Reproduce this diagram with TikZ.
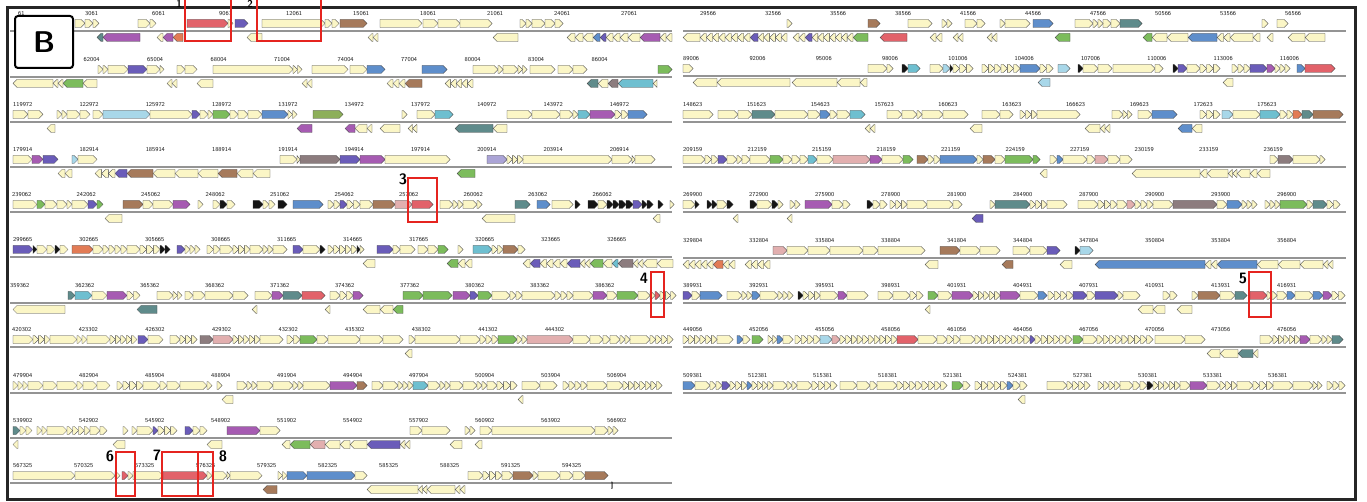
\documentclass[tikz,border=0pt]{standalone}
\usepackage{xcolor}
\definecolor{cr}{HTML}{FBF6C6}
\definecolor{pu}{HTML}{A65BB2}
\definecolor{vi}{HTML}{6A5CB9}
\definecolor{br}{HTML}{A67A5B}
\definecolor{rd}{HTML}{E2626A}
\definecolor{gn}{HTML}{7CBC5C}
\definecolor{ol}{HTML}{8DAF5A}
\definecolor{sb}{HTML}{5E8ECB}
\definecolor{cy}{HTML}{6EBFD0}
\definecolor{lb}{HTML}{A8D7E9}
\definecolor{tl}{HTML}{5F8B8B}
\definecolor{pk}{HTML}{E2AFAF}
\definecolor{tp}{HTML}{8C7C7E}
\definecolor{og}{HTML}{E27B55}
\definecolor{bk}{HTML}{151515}
\definecolor{lv}{HTML}{ABA4D6}
\definecolor{hired}{HTML}{E5241F}
\usepackage{tikz}
\usetikzlibrary{arrows.meta}

\tikzset{
  gene/.style={draw=black!75, line width=0.35pt},
  axis/.style={draw=black!42, line width=1.6pt},
  tick/.style={anchor=west, inner sep=0pt, text=black!90,
    font=\sffamily\fontsize{6}{6}\selectfont},
  hilite/.style={draw=hired, line width=2.4pt},
  numlbl/.style={inner sep=0pt, font=\sffamily\bfseries\fontsize{15}{15}\selectfont},
}

% forward / reverse gene arrows, drawn in the row's own frame (axis at y=0)
\newcommand{\fw}[3]{%
  \pgfmathsetmacro\gxa{#1}\pgfmathsetmacro\gxb{#2}%
  \pgfmathsetmacro\ghd{min(4,\gxb-\gxa)}%
  \draw[gene,fill=#3] (\gxa,-11.5) -- ({\gxb-\ghd},-11.5) -- (\gxb,-7.5)
    -- ({\gxb-\ghd},-3.5) -- (\gxa,-3.5) -- cycle;}
\newcommand{\rv}[3]{%
  \pgfmathsetmacro\gxa{#1}\pgfmathsetmacro\gxb{#2}%
  \pgfmathsetmacro\ghd{min(4,\gxb-\gxa)}%
  \draw[gene,fill=#3] (\gxa,6.5) -- ({\gxa+\ghd},2.5) -- (\gxb,2.5)
    -- (\gxb,10.5) -- ({\gxa+\ghd},10.5) -- cycle;}
% runs of tiny genes
\newcommand{\fsm}[2]{%
  \pgfmathtruncatemacro\nsm{max(1,round((#2-#1)/6))}%
  \pgfmathsetmacro\wsm{(#2-#1)/\nsm}%
  \foreach \k in {1,...,\nsm}{\fw{#1+(\k-1)*\wsm}{#1+\k*\wsm}{cr}}}
\newcommand{\rsm}[2]{%
  \pgfmathtruncatemacro\nsm{max(1,round((#2-#1)/6))}%
  \pgfmathsetmacro\wsm{(#2-#1)/\nsm}%
  \foreach \k in {1,...,\nsm}{\rv{#1+(\k-1)*\wsm}{#1+\k*\wsm}{cr}}}

\begin{document}
\begin{tikzpicture}[x=1pt,y=-1pt]
\useasboundingbox (0,0) rectangle (1367,502);
\fill[white] (0,0) rectangle (1367,502);

%% ---------- left column ----------
\begin{scope}[shift={(0,31)}]
  \foreach \t [count=\i from 0] in {61,3061,6061,9061,12061,15061,18061,21061,24061,27061}
    \node[tick] (La\i) at ({18+67*\i},-17) {\t};
  \draw[axis] (10,0) -- (672,0);
  \foreach \a/\b/\c in {75/85/cr,85/93/cr,138/150/cr,187/228/rd,235/248/vi,262/325/cr,340/367/br,380/422/cr,423/438/cr,438/460/cr,460/492/cr,532/545/cr,545/555/cr}
    \fw{\a}{\b}{\c};
  \foreach \a/\b in {93/99,150/156,228/233,325/339,520/532,555/563} \fsm{\a}{\b};
  \foreach \a/\b/\c in {97/103/tl,103/140/pu,157/163/cr,163/173/pu,173/183/og,247/262/cr,493/518/cr,575/583/cr,583/593/cr,593/600/sb,600/606/vi,606/613/cr,613/620/cr,620/628/cr,628/640/cr,640/660/pu}
    \rv{\a}{\b}{\c};
  \foreach \a/\b in {368/378,567/575,660/672} \rsm{\a}{\b};
\end{scope}

\begin{scope}[shift={(0,77)}]
  \foreach \t [count=\i from 0] in {59004,62004,65004,68004,71004,74004,77004,80004,83004,86004}
    \node[tick] (Lb\i) at ({20+63.5*\i},-17) {\t};
  \draw[axis] (10,0) -- (672,0);
  \foreach \a/\b/\c in {108/128/cr,128/147/vi,147/160/cr,185/197/cr,213/293/cr,312/348/cr,350/367/cr,367/385/sb,422/447/sb,473/498/cr,503/518/cr,530/555/cr,558/573/cr,573/587/cr,658/672/gn}
    \fw{\a}{\b}{\c};
  \foreach \a/\b in {98/108,160/164,177/185,293/302,498/503,518/527} \fsm{\a}{\b};
  \foreach \a/\b/\c in {13/53/cr,63/83/gn,83/97/cr,197/213/cr,405/422/br,587/598/tl,598/608/cr,608/618/tp,618/653/cy}
    \rv{\a}{\b}{\c};
  \foreach \a/\b in {53/63,167/177,302/312,387/405,445/473,653/657} \rsm{\a}{\b};
\end{scope}

\begin{scope}[shift={(0,122)}]
  \foreach \t [count=\i from 0] in {119972,122972,125972,128972,131972,134972,137972,140972,143972,146972}
    \node[tick] (Lc\i) at ({13+66.3*\i},-17) {\t};
  \draw[axis] (10,0) -- (672,0);
  \foreach \a/\b/\c in {13/28/cr,28/43/cr,67/80/cr,80/90/cr,93/103/cr,103/150/lb,150/192/cr,192/200/vi,208/213/cr,213/230/gn,238/248/cr,248/262/cr,262/288/sb,313/343/ol,417/435/cr,435/453/cy,507/532/cr,532/560/cr,560/573/cr,578/590/cy,590/615/pu,628/647/sb}
    \fw{\a}{\b}{\c};
  \foreach \a/\b in {57/67,200/208,230/238,288/297,402/407,573/578,615/628} \fsm{\a}{\b};
  \foreach \a/\b/\c in {47/55/cr,297/312/pu,345/355/pu,355/367/cr,380/400/cr,455/493/tl,493/507/cr}
    \rv{\a}{\b}{\c};
  \foreach \a/\b in {367/372,408/417} \rsm{\a}{\b};
\end{scope}

\begin{scope}[shift={(0,167)}]
  \foreach \t [count=\i from 0] in {179914,182914,185914,188914,191914,194914,197914,200914,203914,206914}
    \node[tick] (Ld\i) at ({13+66.3*\i},-17) {\t};
  \draw[axis] (10,0) -- (672,0);
  \foreach \a/\b/\c in {13/32/cr,32/43/pu,43/58/vi,72/78/lb,78/97/cr,280/297/cr,300/340/tp,340/360/vi,360/385/pu,385/450/cr,487/507/lv,523/612/cr,612/632/cr,635/655/cr}
    \fw{\a}{\b}{\c};
  \foreach \a/\b in {297/300,507/523,632/635} \fsm{\a}{\b};
  \foreach \a/\b/\c in {115/127/vi,127/153/br,153/175/cr,175/198/cr,198/218/cr,218/237/br,237/253/cr,253/270/cr,457/475/gn}
    \rv{\a}{\b}{\c};
  \foreach \a/\b in {58/72,95/115} \rsm{\a}{\b};
\end{scope}

\begin{scope}[shift={(0,212)}]
  \foreach \t [count=\i from 0] in {239062,242062,245062,248062,251062,254062,257062,260062,263062,266062}
    \node[tick] (Le\i) at ({12+64.5*\i},-17) {\t};
  \draw[axis] (10,0) -- (672,0);
  \foreach \a/\b/\c in {13/37/cr,37/45/gn,45/57/cr,57/67/cr,72/88/cr,88/97/vi,97/103/gn,123/143/br,143/153/cr,153/173/cr,173/190/pu,220/227/bk,227/235/cr,253/263/bk,278/287/bk,293/323/sb,340/347/vi,360/373/cr,373/395/br,395/412/pk,412/433/rd,440/453/cr,463/477/cr,515/530/tl,537/550/sb,552/573/cr,575/580/bk,588/598/bk,598/607/cr,607/613/bk,613/619/bk,619/626/bk,626/633/bk,633/642/vi,642/647/bk,647/653/bk,658/663/bk}
    \fw{\a}{\b}{\c};
  \foreach \a/\b in {67/72,198/203,213/220,263/275,328/340,347/360,453/463,477/482,670/674} \fsm{\a}{\b};
  \foreach \a/\b/\c in {105/122/cr,482/515/cr} \rv{\a}{\b}{\c};
  \foreach \a/\b in {653/660} \rsm{\a}{\b};
\end{scope}

\begin{scope}[shift={(0,257)}]
  \foreach \t [count=\i from 0] in {299665,302665,305665,308665,311665,314665,317665,320665,323665,326665}
    \node[tick] (Lf\i) at ({13+66*\i},-17) {\t};
  \draw[axis] (10,0) -- (672,0);
  \foreach \a/\b/\c in {13/33/vi,33/37/bk,37/47/cr,55/60/bk,60/68/cr,72/93/og,93/103/cr,127/140/cr,160/165/bk,165/170/bk,177/185/vi,220/233/cr,250/263/cr,273/287/cr,293/303/vi,303/320/cr,320/325/bk,357/360/bk,377/393/vi,400/415/cr,418/428/cr,428/438/cr,438/448/gn,473/492/cy,503/518/br}
    \fw{\a}{\b}{\c};
  \foreach \a/\b in {47/55,103/127,140/160,185/200,207/220,233/250,263/273,328/357,360/364,393/400,458/463,492/503,518/525} \fsm{\a}{\b};
  \foreach \a/\b/\c in {363/375/cr,447/458/gn,530/540/vi,567/580/vi,590/603/gn,603/612/cr,612/618/cy,618/633/tp,643/657/cr,657/673/cr}
    \rv{\a}{\b}{\c};
  \foreach \a/\b in {458/472,523/530,540/553,553/567,580/590,633/643} \rsm{\a}{\b};
\end{scope}

\begin{scope}[shift={(0,303)}]
  \foreach \t [count=\i from 0] in {359362,362362,365362,368362,371362,374362,377362,380362,383362,386362}
    \node[tick] (Lg\i) at ({10+65*\i},-17) {\t};
  \draw[axis] (10,0) -- (672,0);
  \foreach \a/\b/\c in {68/75/tl,75/92/cy,92/107/cr,107/127/pu,157/173/cr,193/205/cr,205/233/cr,233/248/cr,255/272/cr,272/283/pu,283/302/tl,302/325/rd,330/340/cr,353/363/pu,403/423/gn,423/452/gn,453/470/pu,470/478/vi,478/492/gn,492/510/cr,522/555/cr,573/593/cr,593/607/pu,607/617/cr,617/638/gn,638/650/cr,655/660/rd}
    \fw{\a}{\b}{\c};
  \foreach \a/\b in {127/140,173/182,185/193,340/353,510/522,555/573,650/655,660/676} \fsm{\a}{\b};
  \foreach \a/\b/\c in {13/65/cr,137/157/tl,363/380/cr,380/393/cr,393/403/gn} \rv{\a}{\b}{\c};
  \foreach \a/\b in {252/257,325/330} \rsm{\a}{\b};
\end{scope}

\begin{scope}[shift={(0,347)}]
  \foreach \t [count=\i from 0] in {420302,423302,426302,429302,432302,435302,438302,441302,444302}
    \node[tick] (Lh\i) at ({12+66.6*\i},-17) {\t};
  \draw[axis] (10,0) -- (672,0);
  \foreach \a/\b/\c in {13/33/cr,50/77/cr,87/110/cr,138/148/vi,148/163/cr,170/180/cr,200/213/tp,213/233/pk,260/283/cr,300/317/gn,317/328/cr,328/360/cr,360/383/cr,383/403/cr,415/460/cr,460/480/cr,498/517/gn,527/573/pk,573/590/cr,590/603/cr,610/620/cr,630/650/cr}
    \fw{\a}{\b}{\c};
  \foreach \a/\b in {33/50,77/87,110/137,180/197,233/260,287/300,409/415,480/498,517/527,603/610,620/630,650/673} \fsm{\a}{\b};
  \foreach \a/\b in {405/412} \rsm{\a}{\b};
\end{scope}

\begin{scope}[shift={(0,393)}]
  \foreach \t [count=\i from 0] in {479904,482904,485904,488904,491904,494904,497904,500904,503904,506904}
    \node[tick] (Li\i) at ({13+66*\i},-17) {\t};
  \draw[axis] (10,0) -- (672,0);
  \foreach \a/\b/\c in {28/43/cr,43/57/cr,57/77/cr,83/97/cr,97/110/cr,117/123/cr,143/160/cr,167/180/cr,180/207/cr,237/247/cr,257/273/cr,273/293/cr,303/330/cr,330/357/pu,357/367/br,372/383/cr,383/398/cr,413/428/cy,428/440/cr,450/463/cr,463/477/cr,487/497/cr,522/540/cr,540/557/cr,587/607/cr,607/623/cr}
    \fw{\a}{\b}{\c};
  \foreach \a/\b in {13/28,77/83,123/143,160/167,207/212,217/222,247/257,293/303,398/413,440/450,477/487,497/517,563/587,623/662} \fsm{\a}{\b};
  \foreach \a/\b/\c in {222/233/cr} \rv{\a}{\b}{\c};
  \foreach \a/\b in {518/523} \rsm{\a}{\b};
\end{scope}

\begin{scope}[shift={(0,438)}]
  \foreach \t [count=\i from 0] in {539902,542902,545902,548902,551902,554902,557902,560902,563902,566902}
    \node[tick] (Lj\i) at ({13+66*\i},-17) {\t};
  \draw[axis] (10,0) -- (672,0);
  \foreach \a/\b/\c in {13/20/tl,47/67/cr,90/100/cr,137/153/cr,153/158/vi,185/193/vi,227/260/pu,260/280/cr,410/422/cr,422/450/cr,480/492/cr,492/595/cr,595/608/cr}
    \fw{\a}{\b}{\c};
  \foreach \a/\b in {20/32,37/47,67/90,100/107,123/128,132/137,158/177,193/207,465/475,608/618} \fsm{\a}{\b};
  \foreach \a/\b/\c in {113/125/cr,207/222/cr,290/310/gn,310/325/pk,325/340/cr,340/350/cr,350/367/cr,367/400/vi,450/462/cr}
    \rv{\a}{\b}{\c};
  \foreach \a/\b in {13/18,282/290,400/410,475/482} \rsm{\a}{\b};
\end{scope}

\begin{scope}[shift={(0,483)}]
  \foreach \t [count=\i from 0] in {567325,570325,573325,576325,579325,582325,585325,588325,591325,594325}
    \node[tick] (Lk\i) at ({13+61*\i},-17) {\t};
  \draw[axis] (10,0) -- (672,0);
  \foreach \a/\b/\c in {13/75/cr,75/115/cr,122/128/rd,133/163/cr,163/207/rd,212/227/cr,230/262/cr,287/307/sb,307/355/sb,355/367/cr,468/483/cr,502/513/cr,513/533/br,538/560/cr,560/573/cr,573/585/cr,585/608/br}
    \fw{\a}{\b}{\c};
  \foreach \a/\b in {115/120,128/133,207/212,227/230,278/287,483/502,533/538} \fsm{\a}{\b};
  \foreach \a/\b/\c in {263/277/br,367/418/cr,427/455/cr} \rv{\a}{\b}{\c};
  \foreach \a/\b in {418/427,455/465} \rsm{\a}{\b};
  \node[inner sep=0pt, font=\sffamily\bfseries\fontsize{7}{7}\selectfont] (endmark) at (612,3) {]};
\end{scope}

%% ---------- right column ----------
\begin{scope}[shift={(0,31)}]
  \foreach \t [count=\i from 0] in {29566,32566,35566,38566,41566,44566,47566,50566,53566,56566}
    \node[tick] (Ra\i) at ({700+65*\i},-17) {\t};
  \draw[axis] (683,0) -- (1346,0);
  \foreach \a/\b/\c in {868/880/br,908/932/cr,965/977/cr,977/985/cr,1005/1030/cr,1033/1053/sb,1075/1093/cr,1103/1111/cr,1111/1120/cr,1120/1142/tl,1277/1288/cr}
    \fw{\a}{\b}{\c};
  \foreach \a/\b in {787/792,942/952,1000/1005,1093/1103,1262/1268} \fsm{\a}{\b};
  \foreach \a/\b/\c in {683/700/cr,750/758/vi,805/812/vi,853/868/gn,880/907/rd,1055/1070/gn,1143/1152/gn,1152/1167/cr,1167/1188/cr,1188/1217/sb,1230/1253/cr,1288/1305/cr,1305/1325/cr}
    \rv{\a}{\b}{\c};
  \foreach \a/\b in {700/750,758/787,793/805,812/853,930/942,953/963,987/997,1217/1230,1253/1260,1267/1273} \rsm{\a}{\b};
\end{scope}

\begin{scope}[shift={(0,76)}]
  \foreach \t [count=\i from 0] in {89006,92006,95006,98006,101006,104006,107006,110006,113006,116006}
    \node[tick] (Rb\i) at ({683+66.3*\i},-17) {\t};
  \draw[axis] (683,0) -- (1346,0);
  \foreach \a/\b/\c in {683/693/cr,868/887/cr,902/908/bk,908/920/cy,930/943/cr,943/950/lb,950/953/bk,1020/1040/sb,1058/1070/lb,1078/1083/bk,1083/1098/cr,1098/1112/cr,1113/1155/cr,1173/1178/bk,1178/1187/vi,1187/1200/cr,1250/1267/vi,1267/1275/pu,1297/1305/sb,1305/1335/rd}
    \fw{\a}{\b}{\c};
  \foreach \a/\b in {887/893,953/973,982/1020,1040/1053,1155/1163,1200/1220,1232/1250,1275/1290} \fsm{\a}{\b};
  \foreach \a/\b/\c in {693/717/cr,717/790/cr,792/837/cr,837/860/cr,1038/1050/lb,1223/1233/cr} \rv{\a}{\b}{\c};
  \foreach \a/\b in {860/867} \rsm{\a}{\b};
\end{scope}

\begin{scope}[shift={(0,122)}]
  \foreach \t [count=\i from 0] in {148623,151623,154623,157623,160623,163623,166623,169623,172623,175623}
    \node[tick] (Rc\i) at ({683+63.8*\i},-17) {\t};
  \draw[axis] (683,0) -- (1346,0);
  \foreach \a/\b/\c in {683/713/cr,718/738/cr,738/752/cr,752/775/tl,775/808/cr,808/820/cr,820/830/sb,837/850/cr,850/865/cy,887/902/cr,902/917/cr,922/943/cr,943/968/cr,982/1000/cr,1000/1013/cr,1037/1080/cr,1112/1123/cr,1138/1152/cr,1152/1177/sb,1222/1233/lb,1233/1260/cr,1260/1280/cy,1287/1293/cr,1293/1302/og,1302/1313/tl,1313/1343/br}
    \fw{\a}{\b}{\c};
  \foreach \a/\b in {830/837,917/922,1020/1037,1123/1132,1200/1220,1280/1287} \fsm{\a}{\b};
  \foreach \a/\b/\c in {970/982/cr,1085/1100/cr,1178/1192/sb,1192/1202/cr} \rv{\a}{\b}{\c};
  \foreach \a/\b in {865/875,1100/1110} \rsm{\a}{\b};
\end{scope}

\begin{scope}[shift={(0,167)}]
  \foreach \t [count=\i from 0] in {209159,212159,215159,218159,221159,224159,227159,230159,233159,236159}
    \node[tick] (Rd\i) at ({683+64.5*\i},-17) {\t};
  \draw[axis] (683,0) -- (1346,0);
  \foreach \a/\b/\c in {683/705/cr,718/727/vi,727/737/cr,742/750/cr,750/770/cr,770/783/gn,783/792/cr,800/808/cr,808/817/cy,817/833/cr,833/870/pk,870/882/pu,882/903/cr,903/913/gn,917/928/br,940/977/sb,983/995/br,995/1005/cr,1005/1033/gn,1033/1040/gn,1057/1063/sb,1063/1087/cr,1095/1108/pk,1108/1120/cr,1120/1132/cr,1270/1278/cr,1278/1293/tp,1293/1320/cr}
    \fw{\a}{\b}{\c};
  \foreach \a/\b in {705/718,737/742,792/800,928/940,977/983,1050/1057,1087/1095,1320/1325} \fsm{\a}{\b};
  \foreach \a/\b/\c in {1132/1200/cr,1207/1228/cr,1237/1250/cr,1257/1270/cr} \rv{\a}{\b}{\c};
  \foreach \a/\b in {1040/1047,1200/1207,1228/1237,1250/1257} \rsm{\a}{\b};
\end{scope}

\begin{scope}[shift={(0,212)}]
  \foreach \t [count=\i from 0] in {269900,272900,275900,278900,281900,284900,287900,290900,293900,296900}
    \node[tick] (Re\i) at ({683+66*\i},-17) {\t};
  \draw[axis] (683,0) -- (1346,0);
  \foreach \a/\b/\c in {683/695/cr,695/699/bk,707/712/bk,712/717/bk,717/727/cr,727/733/bk,750/757/bk,757/772/cr,772/778/bk,805/832/pu,832/843/cr,867/873/bk,907/927/cr,927/953/cr,953/962/cr,995/1030/tl,1047/1067/cr,1078/1098/cr,1117/1127/cr,1127/1135/pk,1153/1173/cr,1173/1217/tp,1217/1227/cr,1227/1242/sb,1280/1307/gn,1307/1313/cr,1313/1327/tl}
    \fw{\a}{\b}{\c};
  \foreach \a/\b in {778/783,790/800,843/850,873/887,890/907,990/995,1030/1047,1098/1117,1135/1153,1242/1257,1265/1280,1327/1340} \fsm{\a}{\b};
  \foreach \a/\b/\c in {972/983/vi} \rv{\a}{\b}{\c};
  \foreach \a/\b in {733/738,787/792} \rsm{\a}{\b};
\end{scope}

\begin{scope}[shift={(0,258)}]
  \foreach \t [count=\i from 0] in {329804,332804,335804,338804,341804,344804,347804,350804,353804,356804}
    \node[tick] (Rf\i) at ({683+66*\i},-17) {\t};
  \draw[axis] (683,0) -- (1346,0);
  \foreach \a/\b/\c in {773/787/pk,787/808/cr,808/830/cr,830/863/cr,863/878/cr,878/925/cr,940/960/br,960/980/cr,980/1000/cr,1013/1030/cr,1030/1047/cr,1047/1060/vi,1075/1080/bk,1080/1093/lb}
    \fw{\a}{\b}{\c};
  \foreach \a/\b/\c in {713/723/og,925/938/cr,1002/1013/br,1060/1072/cr,1095/1205/sb,1217/1257/sb,1257/1278/cr,1278/1300/cr,1300/1323/cr}
    \rv{\a}{\b}{\c};
  \foreach \a/\b in {683/713,723/735,745/770,1205/1217,1323/1333} \rsm{\a}{\b};
\end{scope}

\begin{scope}[shift={(0,303)}]
  \foreach \t [count=\i from 0] in {389931,392931,395931,398931,401931,404931,407931,410931,413931,416931}
    \node[tick] (Rg\i) at ({683+66*\i},-17) {\t};
  \draw[axis] (683,0) -- (1346,0);
  \foreach \a/\b/\c in {683/692/vi,700/722/sb,727/742/cr,752/760/sb,760/778/cr,798/803/bk,820/838/cr,838/847/pu,847/868/cr,878/893/cr,893/910/cr,928/938/gn,938/952/cr,952/973/pu,1000/1020/pu,1020/1038/cr,1038/1047/sb,1073/1087/vi,1087/1095/cr,1095/1118/vi,1123/1140/cr,1198/1220/br,1220/1235/cr,1235/1247/tl,1250/1267/rd,1277/1287/cr,1287/1295/sb,1295/1313/cr,1313/1323/sb,1323/1332/pu}
    \fw{\a}{\b}{\c};
  \foreach \a/\b in {692/700,742/752,778/793,803/820,910/923,973/1000,1048/1073,1118/1123,1163/1177,1192/1198,1267/1277,1332/1345} \fsm{\a}{\b};
  \foreach \a/\b/\c in {1138/1153/cr,1153/1165/cr,1177/1192/cr} \rv{\a}{\b}{\c};
  \foreach \a/\b in {925/930} \rsm{\a}{\b};
\end{scope}

\begin{scope}[shift={(0,347)}]
  \foreach \t [count=\i from 0] in {449056,452056,455056,458056,461056,464056,467056,470056,473056,476056}
    \node[tick] (Rh\i) at ({683+66*\i},-17) {\t};
  \draw[axis] (683,0) -- (1346,0);
  \foreach \a/\b/\c in {717/733/cr,737/743/sb,752/763/gn,777/783/sb,783/793/cr,820/832/lb,832/840/pk,897/918/rd,918/937/cr,937/947/cr,960/975/cr,1030/1035/vi,1073/1083/gn,1083/1097/cr,1155/1185/cr,1185/1205/cr,1260/1273/cr,1300/1310/pu,1310/1322/cr,1332/1343/tl}
    \fw{\a}{\b}{\c};
  \foreach \a/\b in {683/717,743/750,768/777,795/820,840/897,947/960,975/1030,1035/1072,1097/1153,1273/1300,1322/1332} \fsm{\a}{\b};
  \foreach \a/\b/\c in {1207/1220/cr,1220/1238/cr,1238/1253/tl} \rv{\a}{\b}{\c};
  \foreach \a/\b in {1253/1258} \rsm{\a}{\b};
\end{scope}

\begin{scope}[shift={(0,393)}]
  \foreach \t [count=\i from 0] in {509381,512381,515381,518381,521381,524381,527381,530381,533381,536381}
    \node[tick] (Ri\i) at ({683+65*\i},-17) {\t};
  \draw[axis] (683,0) -- (1346,0);
  \foreach \a/\b/\c in {683/695/sb,695/710/cr,722/730/vi,747/752/sb,773/787/cr,797/812/cr,840/857/cr,857/870/cr,877/897/cr,952/963/gn,1007/1013/sb,1047/1067/cr,1120/1133/cr,1147/1153/bk,1180/1190/cr,1190/1207/pu,1207/1220/cr,1237/1253/cr,1273/1293/cr,1293/1313/cr}
    \fw{\a}{\b}{\c};
  \foreach \a/\b in {710/722,730/747,752/773,787/797,812/837,870/877,897/947,963/970,975/1007,1013/1027,1067/1090,1098/1120,1133/1147,1153/1180,1220/1237,1253/1273,1313/1322,1327/1345} \fsm{\a}{\b};
  \foreach \a/\b in {1018/1025} \rsm{\a}{\b};
\end{scope}

%% frame, panel letter, highlights
\draw[line width=3pt, black!85] (7,8) rectangle (1355,499);
\node[draw, line width=2pt, rounded corners=3pt, fill=white, minimum width=58pt,
  minimum height=52pt, font=\sffamily\bfseries\fontsize{30}{30}\selectfont] (panel) at (44,42) {B};

\draw[hilite] (185,-3) rectangle (231,41);
\draw[hilite] (257,-3) rectangle (321,41);
\draw[hilite] (408,178) rectangle (437,222);
\draw[hilite] (651,272) rectangle (664,317);
\draw[hilite] (1249,272) rectangle (1271,317);
\draw[hilite] (116,452) rectangle (135,496);
\draw[hilite] (162,452) rectangle (198,496);
\draw[hilite] (198,452) rectangle (213,496);
\node[numlbl, font=\sffamily\bfseries\fontsize{10}{10}\selectfont] (h1) at (179,4) {1};
\node[numlbl, font=\sffamily\bfseries\fontsize{10}{10}\selectfont] (h2) at (250,4) {2};
\node[numlbl] (h3) at (403,179) {3};
\node[numlbl] (h4) at (644,278) {4};
\node[numlbl] (h5) at (1243,278) {5};
\node[numlbl] (h6) at (110,456) {6};
\node[numlbl] (h7) at (157,455) {7};
\node[numlbl] (h8) at (223,456) {8};
\end{tikzpicture}
\end{document}
